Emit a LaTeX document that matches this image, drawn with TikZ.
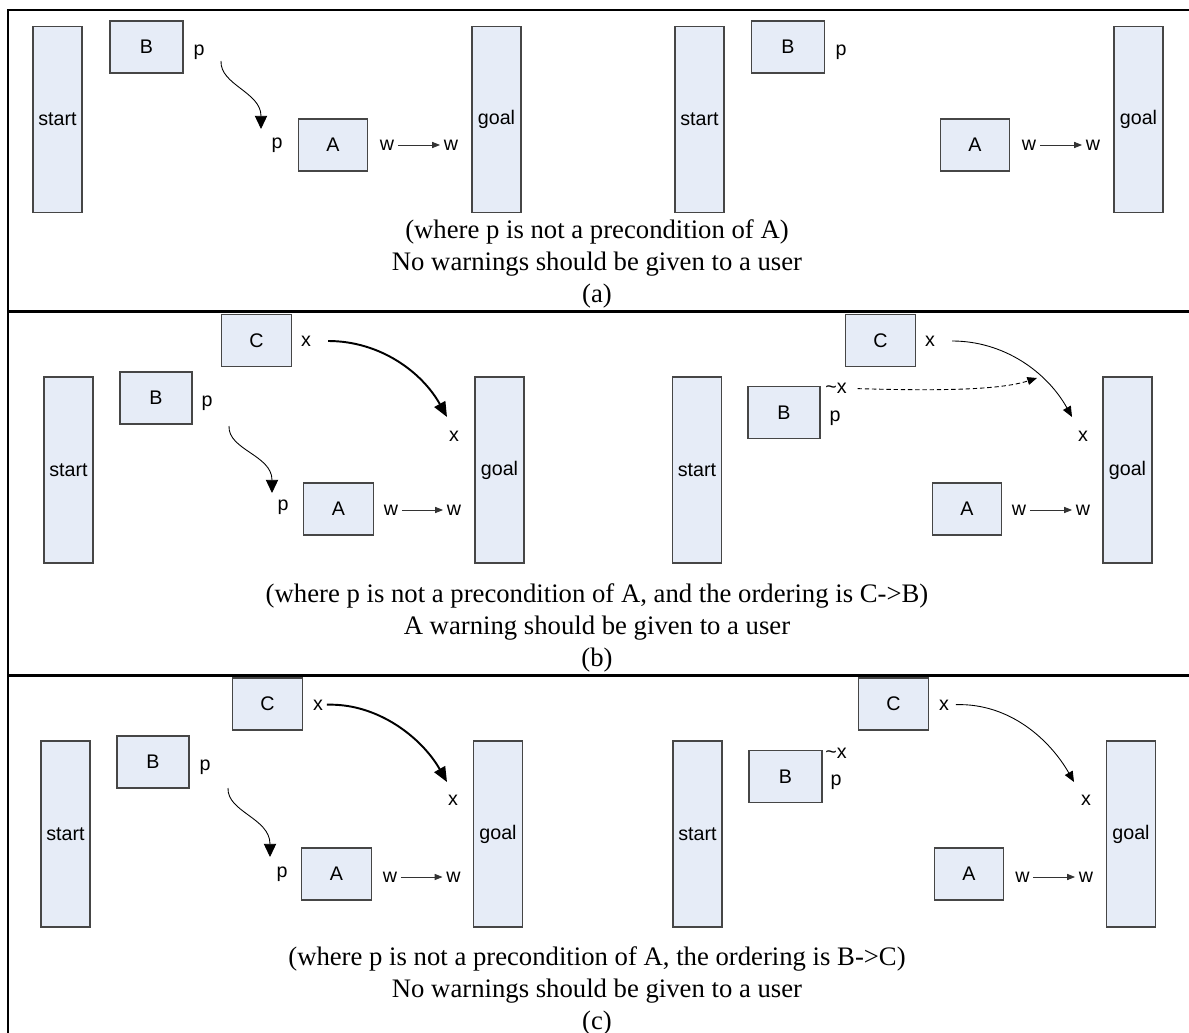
\documentclass[tikz,border=0pt]{standalone}
\usepackage{fontspec}
\setmainfont{Liberation Serif}
\setsansfont{Liberation Sans}
\usetikzlibrary{arrows.meta, positioning}
\definecolor{boxfill}{RGB}{230,236,247}
\definecolor{boxline}{RGB}{70,70,70}

\begin{document}
\begin{tikzpicture}[
            x=0.02cm, y=-0.02cm,
            % start / goal bars
            bar/.style={
                draw=boxline, fill=boxfill, line width=0.6pt,
                minimum width=0.98cm, minimum height=3.72cm,
                inner sep=0pt,
                font=\sffamily\fontsize{11.2}{13}\selectfont
            },
            % plan steps A, B, C
            opbox/.style={
                draw=boxline, fill=boxfill, line width=0.6pt,
                minimum width=1.39cm, minimum height=1.04cm,
                inner sep=0pt,
                font=\sffamily\fontsize{11.2}{13}\selectfont
            },
            lab/.style={inner sep=2pt, font=\sffamily\fontsize{11.2}{13}\selectfont},
            capt/.style={align=center, inner sep=0pt, font=\fontsize{15.2}{18.2}\selectfont},
            panelline/.style={line width=1.2pt},
            warr/.style={-{Triangle[length=4.5pt,width=3.5pt]}, line width=0.5pt, black!80},
            parr/.style={-{Triangle[length=7.5pt,width=7pt]}, line width=0.5pt},
            carr/.style={-{Triangle[length=8.5pt,width=7pt]}, line width=1.1pt},
            tarr/.style={-{Triangle[length=6pt,width=5pt]}, line width=0.5pt},
            darr/.style={-{Triangle[length=5.5pt,width=4.5pt]}, dash pattern=on 2.5pt off 1.6pt, line width=0.5pt}
        ]
        \useasboundingbox (0,0) rectangle (1189,1033);

        % Frame
        \draw[panelline] (1189,10) -- (8,10) -- (8,1033);
        \draw[panelline] (8,311.5) -- (1189,311.5);
        \draw[panelline] (8,675.5) -- (1189,675.5);

        % (a) left
        \node[bar] (start1) at (57.5,119.5) {start};
        \node[bar] (goal1) at (496.5,119.5) {goal};
        \node[opbox, minimum width=1.46cm] (B1) at (146.5,47) {B};
        \node[lab] (pB1) at (199,52) {p};
        \node[opbox] (A1) at (333,145) {A};
        \node[lab] (pA1) at (277,145) {p};
        \node[lab] (wA1) at (387,145) {w};
        \node[lab] (wG1) at (451,145) {w};
        \coordinate (ps1) at (221,61);
        \coordinate (pe1) at (261,129);
        \draw[parr] (ps1) .. controls (220,85) and (261,92) .. (pe1);
        \draw[warr] (wA1) -- (wG1);

        % (a) right
        \node[bar] (start2) at (699.5,119.5) {start};
        \node[bar] (goal2) at (1138.5,119.5) {goal};
        \node[opbox, minimum width=1.46cm] (B2) at (788,47) {B};
        \node[lab] (pB2) at (841,52) {p};
        \node[opbox] (A2) at (975,145) {A};
        \node[lab] (wA2) at (1029,145) {w};
        \node[lab] (wG2) at (1093,145) {w};
        \draw[warr] (wA2) -- (wG2);

        \node[capt] (capA) at (597,264) {(where p is not a precondition of A)\\No warnings should be given to a user\\(a)};

        % (b) left
        \node[bar] (start3) at (68.5,470) {start};
        \node[bar] (goal3) at (499.5,470) {goal};
        \node[opbox, minimum width=1.44cm] (B3) at (156,398) {B};
        \node[lab] (pB3) at (207,403) {p};
        \node[opbox] (C3) at (256.5,340.5) {C};
        \node[lab] (xC3) at (306,341) {x};
        \node[lab] (xG3) at (454,436) {x};
        \node[opbox] (A3) at (338.5,509) {A};
        \node[lab] (pA3) at (283,507) {p};
        \node[lab] (wA3) at (391,510) {w};
        \node[lab] (wG3) at (454,510) {w};
        \coordinate (ps3) at (229,426);
        \coordinate (pe3) at (272,493);
        \coordinate (ce3) at (447,417);
        \draw[parr] (ps3) .. controls (228,450) and (272,455) .. (pe3);
        \draw[carr, shorten <=7.6pt] (xC3) .. controls (380,341) and (422,372) .. (ce3);
        \draw[warr] (wA3) -- (wG3);

        % (b) right
        \node[bar] (start4) at (697,470) {start};
        \node[bar] (goal4) at (1127.5,470) {goal};
        \node[opbox, minimum width=1.44cm] (B4) at (784,412.5) {B};
        \node[lab] (nxB4) at (836,388) {\textasciitilde x};
        \node[lab] (pB4) at (835,418) {p};
        \node[opbox] (C4) at (880.5,340.5) {C};
        \node[lab] (xC4) at (930,341) {x};
        \node[lab] (xG4) at (1083,436) {x};
        \node[opbox] (A4) at (967,509) {A};
        \node[lab] (wA4) at (1019,510) {w};
        \node[lab] (wG4) at (1083,510) {w};
        \coordinate (ce4) at (1072,417);
        \coordinate (de4) at (1037,378);
        \draw[tarr, shorten <=7.6pt] (xC4) .. controls (1004,341) and (1047,372) .. (ce4);
        \draw[darr, shorten <=4pt] (nxB4) .. controls (940,391) and (1000,390) .. (de4);
        \draw[warr] (wA4) -- (wG4);

        \node[capt] (capB) at (597,628) {(where p is not a precondition of A, and the ordering is C->B)\\A warning should be given to a user\\(b)};

        % (c) left
        \node[bar] (start5) at (65.5,834) {start};
        \node[bar] (goal5) at (498,834) {goal};
        \node[opbox, minimum width=1.44cm] (B5) at (153,762) {B};
        \node[lab] (pB5) at (205,767) {p};
        \node[opbox] (C5) at (267.5,704) {C};
        \node[lab] (xC5) at (318,705) {x};
        \node[lab] (xG5) at (453,800) {x};
        \node[opbox] (A5) at (336.5,874) {A};
        \node[lab] (pA5) at (282,874) {p};
        \node[lab] (wA5) at (390,877) {w};
        \node[lab] (wG5) at (453.5,877) {w};
        \coordinate (ps5) at (228,788);
        \coordinate (pe5) at (270,857);
        \coordinate (ce5) at (447,782);
        \draw[parr] (ps5) .. controls (227,812) and (270,818) .. (pe5);
        \draw[carr] (xC5) .. controls (378,703) and (422,738) .. (ce5);
        \draw[warr] (wA5) -- (wG5);

        % (c) right
        \node[bar] (start6) at (697.5,834) {start};
        \node[bar] (goal6) at (1131,834) {goal};
        \node[opbox, minimum width=1.46cm] (B6) at (785.5,776.5) {B};
        \node[lab] (nxB6) at (836,753) {\textasciitilde x};
        \node[lab] (pB6) at (836,782) {p};
        \node[opbox] (C6) at (893.5,704) {C};
        \node[lab] (xC6) at (944,705) {x};
        \node[lab] (xG6) at (1086,800) {x};
        \node[opbox] (A6) at (969,874) {A};
        \node[lab] (wA6) at (1022.5,877) {w};
        \node[lab] (wG6) at (1086,877) {w};
        \coordinate (ce6) at (1074,782);
        \draw[tarr, shorten <=1.7pt] (xC6) .. controls (1010,703) and (1050,740) .. (ce6);
        \draw[warr] (wA6) -- (wG6);

        \node[capt] (capC) at (597,991) {(where p is not a precondition of A, the ordering is B->C)\\No warnings should be given to a user\\(c)};

        \end{tikzpicture}
\end{document}
